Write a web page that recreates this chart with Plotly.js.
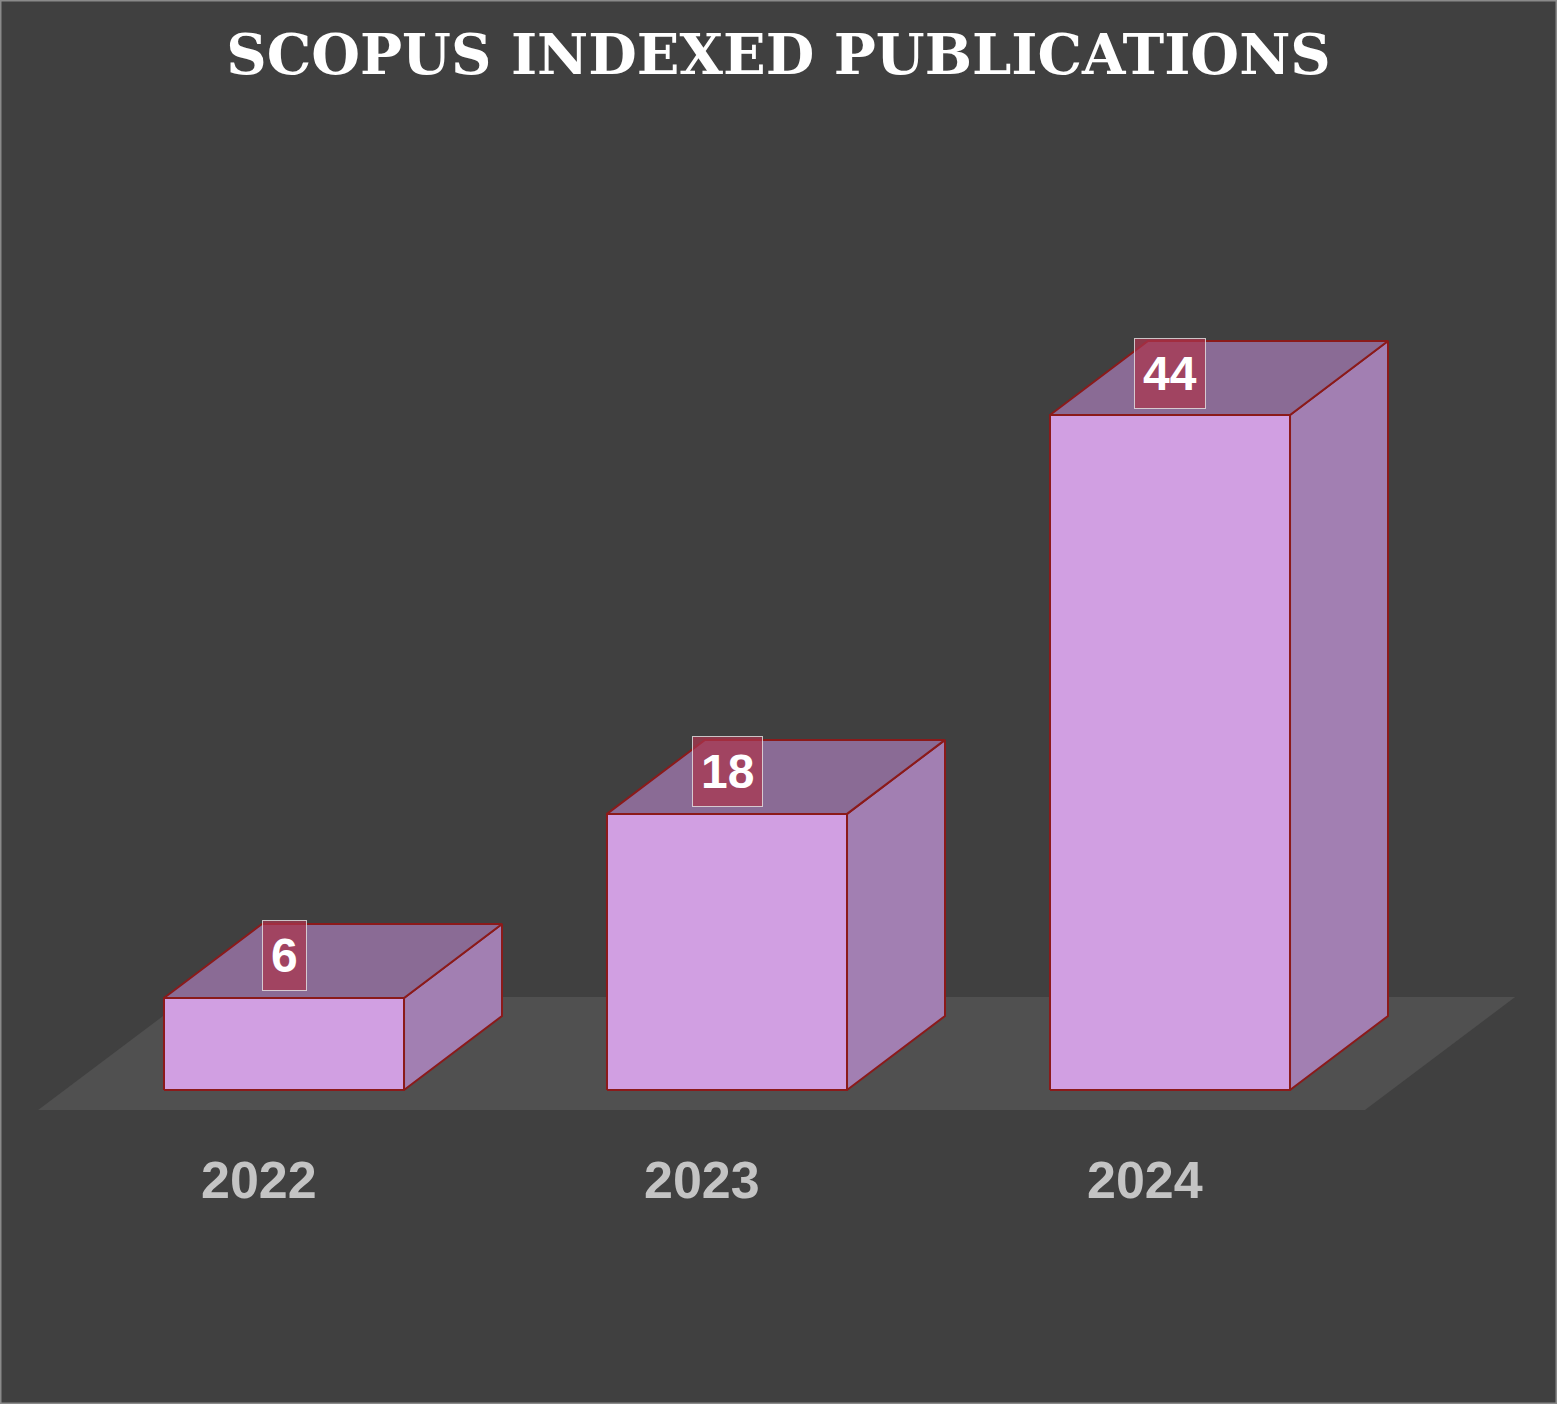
<!DOCTYPE html>
<html>
<head>
<meta charset="utf-8">
<script src="https://cdn.plot.ly/plotly-3.0.1.min.js"></script>
<style>html,body{margin:0;padding:0;background:#404040;}#chart{width:1557px;height:1404px;}</style>
</head>
<body>
<div id="chart"></div>
<script>
const years = ['2022', '2023', '2024'];
const values = [6, 18, 44];
const chartTitle = 'SCOPUS INDEXED PUBLICATIONS';

// geometry (in axis units)
const hw = 0.2709;   // half bar width
const dx = 0.2212;   // depth offset x
const dy = 4.824;    // depth offset y

const frontFace = {x: [], y: []}, topFace = {x: [], y: []}, sideFace = {x: [], y: []};
values.forEach((v, i) => {
  frontFace.x.push(i - hw, i + hw, i + hw, i - hw, i - hw, null);
  frontFace.y.push(0, 0, v, v, 0, null);
  topFace.x.push(i - hw, i + hw, i + hw + dx, i - hw + dx, i - hw, null);
  topFace.y.push(v, v, v + dy, v + dy, v, null);
  sideFace.x.push(i + hw, i + hw + dx, i + hw + dx, i + hw, i + hw, null);
  sideFace.y.push(0, dy, v + dy, v, 0, null);
});

const edge = {color: '#8b1a1a', width: 2};
const floorX = [-0.555, 2.440, 2.779, -0.216, -0.555];
const floorY = [-1.30, -1.30, 6.06, 6.06, -1.30];

const traces = [
  {x: floorX, y: floorY, type: 'scatter', mode: 'lines', fill: 'toself', fillcolor: '#505050', line: {width: 0, color: '#505050'}, hoverinfo: 'skip'},
  {x: sideFace.x, y: sideFace.y, type: 'scatter', mode: 'lines', fill: 'toself', fillcolor: '#a27fb2', line: edge, hoverinfo: 'skip'},
  {x: topFace.x, y: topFace.y, type: 'scatter', mode: 'lines', fill: 'toself', fillcolor: '#8a6b95', line: edge, hoverinfo: 'skip'},
  {x: frontFace.x, y: frontFace.y, type: 'scatter', mode: 'lines', fill: 'toself', fillcolor: '#d19fe2', line: edge, hoverinfo: 'skip'}
];

const annotations = [];
values.forEach((v, i) => {
  annotations.push({
    x: i, y: v + 2.74, xref: 'x', yref: 'y', text: String(v), showarrow: false,
    xanchor: 'center', yanchor: 'middle',
    font: {family: 'Liberation Sans, Arial, sans-serif', size: 48, color: '#ffffff', weight: 'bold'},
    bgcolor: 'rgba(170,52,78,0.72)', bordercolor: 'rgba(230,230,230,0.8)', borderwidth: 1, borderpad: 8
  });
  annotations.push({
    x: i - 0.056, y: -5.87, xref: 'x', yref: 'y', text: years[i], showarrow: false,
    xanchor: 'center', yanchor: 'middle',
    font: {family: 'Liberation Sans, Arial, sans-serif', size: 52, color: '#c4c4c4', weight: 'bold'}
  });
});

const layout = {
  width: 1557, height: 1404,
  margin: {l: 0, r: 0, t: 0, b: 0, pad: 0},
  paper_bgcolor: '#404040', plot_bgcolor: '#404040',
  showlegend: false,
  title: {
    text: '<b>' + chartTitle + '</b>', x: 0.5, xanchor: 'center', y: 0.961, yanchor: 'middle',
    font: {family: 'DejaVu Serif, serif', size: 56, color: '#ffffff'}
  },
  xaxis: {range: [-284 / 443, (1557 - 284) / 443], visible: false, fixedrange: true},
  yaxis: {range: [-(1404 - 1090) / 15.34, 1090 / 15.34], visible: false, fixedrange: true},
  annotations: annotations,
  shapes: [{type: 'rect', xref: 'paper', yref: 'paper', x0: 0, x1: 1, y0: 0, y1: 1, line: {color: '#8a8a8a', width: 3}, fillcolor: 'rgba(0,0,0,0)'}]
};

Plotly.newPlot('chart', traces, layout, {displayModeBar: false, staticPlot: true});
</script>
</body>
</html>
